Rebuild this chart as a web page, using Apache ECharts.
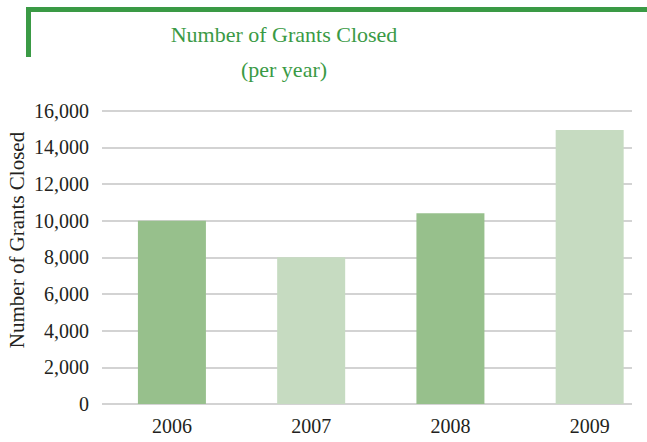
<!DOCTYPE html>
<html>
<head>
<meta charset="utf-8">
<script src="https://cdn.jsdelivr.net/npm/echarts@6/dist/echarts.min.js"></script>
<style>
html,body{margin:0;padding:0;background:#fff;}
#wrap{position:relative;width:647px;height:442px;overflow:hidden;}
#frame{position:absolute;left:26px;top:7px;width:640px;height:45px;border-top:5px solid #3a9a45;border-left:5px solid #3a9a45;}
#chart{position:absolute;left:0;top:0;width:647px;height:442px;}
</style>
</head>
<body>
<div id="wrap">
<div id="frame"></div>
<div id="chart"></div>
</div>
<script>
const categories = ['2006', '2007', '2008', '2009'];
const grantsClosed = [10000, 8000, 10400, 14950];
const barColors = ['#97c08c', '#c6dbc1', '#97c08c', '#c6dbc1'];
const yTicks = [0, 2000, 4000, 6000, 8000, 10000, 12000, 14000, 16000];
const titleLines = ['Number of Grants Closed', '(per year)'];
const yAxisName = 'Number of Grants Closed';

const FONT = '"Liberation Serif", "DejaVu Serif", serif';
const chart = echarts.init(document.getElementById('chart'), null, {renderer: 'svg'});
const yMin = yTicks[0], yMax = yTicks[yTicks.length - 1], yStep = yTicks[1] - yTicks[0];

chart.setOption({
  animation: false,
  backgroundColor: 'transparent',
  grid: [
    {left: 102, right: 15, top: 110.7, bottom: 38, outerBoundsMode: 'none', containLabel: false},
    {left: 102.3, width: 557, top: 110.7, bottom: 38, outerBoundsMode: 'none', containLabel: false}
  ],
  xAxis: [
    {gridIndex: 0, type: 'category', data: categories, show: false},
    {gridIndex: 1, type: 'category', data: categories,
     axisLine: {show: false}, axisTick: {show: false},
     axisLabel: {margin: 12, color: '#231f20', fontFamily: FONT, fontSize: 20}}
  ],
  yAxis: [
    {gridIndex: 0, type: 'value', min: yMin, max: yMax, interval: yStep,
     axisLine: {show: false}, axisTick: {show: false},
     axisLabel: {margin: 13, color: '#231f20', fontFamily: FONT, fontSize: 20,
       formatter: v => v.toLocaleString('en-US')},
     splitLine: {show: true, lineStyle: {color: '#c4c4c4', width: 1.6}}},
    {gridIndex: 1, type: 'value', min: yMin, max: yMax, interval: yStep, show: false,
     splitLine: {show: false}}
  ],
  graphic: [
    {type: 'text', x: 284, y: 34, style: {text: titleLines[0], fill: '#3a9a45',
      font: '22px ' + FONT, textAlign: 'center', textVerticalAlign: 'middle'}},
    {type: 'text', x: 284, y: 69, style: {text: titleLines[1], fill: '#3a9a45',
      font: '22px ' + FONT, textAlign: 'center', textVerticalAlign: 'middle'}},
    {type: 'text', x: 17, y: 240, rotation: Math.PI / 2, style: {text: yAxisName, fill: '#231f20',
      font: '21px ' + FONT, textAlign: 'center', textVerticalAlign: 'middle'}}
  ],
  series: [{
    type: 'bar', xAxisIndex: 1, yAxisIndex: 1, barWidth: 68,
    data: grantsClosed.map((v, i) => ({value: v, itemStyle: {color: barColors[i]}}))
  }]
});
</script>
</body>
</html>
